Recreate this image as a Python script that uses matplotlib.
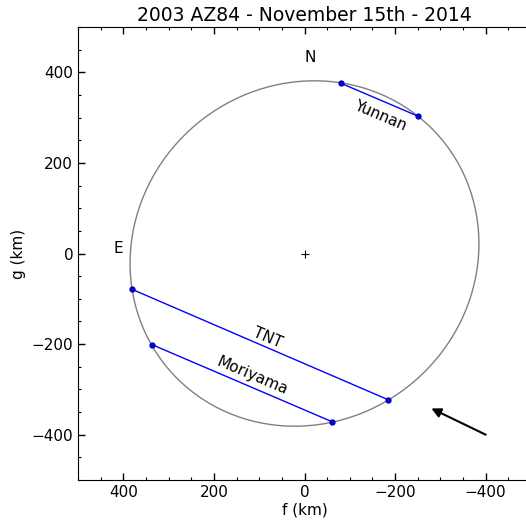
import matplotlib
matplotlib.use("Agg")
import matplotlib.pyplot as plt
from matplotlib.patches import Ellipse
from matplotlib.ticker import MultipleLocator

# Occultation chords (f, g in km): start and end of each chord
chord_names = ["Yunnan", "TNT", "Moriyama"]
chord_f = [[-80, -251], [381, -185], [337, -60]]
chord_g = [[376, 303], [-79, -323], [-201, -371]]

# Label positions and rotation for each chord
label_f = [-167, 82, 115]
label_g = [304, -186, -271]
label_rot = -23

# Fitted limb ellipse: centre, semi-axes, position angle (deg)
ell_center = (0, 0)
ell_a, ell_b = 394, 372
ell_angle = 140

# Direction-of-motion arrow (tail -> head)
arrow_tail = (-400, -400)
arrow_head = (-280, -342)

fig = plt.figure(figsize=(5.26, 5.25), dpi=100)
ax = fig.add_axes([78 / 526, 45 / 525, 453 / 526, 453 / 525])

ell = Ellipse(ell_center, 2 * ell_a, 2 * ell_b, angle=ell_angle,
              fill=False, edgecolor="#808080", linewidth=1.0)
ax.add_patch(ell)

for fs, gs in zip(chord_f, chord_g):
    ax.plot(fs, gs, color="#0000ff", linewidth=1.0, marker="o",
            markersize=3.5, markerfacecolor="#0000ff", markeredgecolor="#0000aa")

for name, lf, lg in zip(chord_names, label_f, label_g):
    ax.text(lf, lg, name, rotation=label_rot, rotation_mode="anchor",
            ha="center", va="center", fontsize=11)

ax.plot([0], [0], marker="+", color="black", markersize=6, markeredgewidth=0.8)

ax.text(-13, 433, "N", ha="center", va="center", fontsize=11)
ax.text(410, 11, "E", ha="center", va="center", fontsize=11)

ax.annotate("", xy=arrow_head, xytext=arrow_tail,
            arrowprops=dict(arrowstyle="-|>", color="black", lw=1.5,
                            mutation_scale=14, shrinkA=0, shrinkB=0))

ax.set_xlim(500, -500)
ax.set_ylim(-500, 500)

ax.xaxis.set_major_locator(MultipleLocator(200))
ax.yaxis.set_major_locator(MultipleLocator(200))
ax.xaxis.set_minor_locator(MultipleLocator(50))
ax.yaxis.set_minor_locator(MultipleLocator(50))
ax.tick_params(which="both", direction="in", top=True, right=False,
               labelsize=11)
ax.tick_params(which="major", length=5, width=1)
ax.tick_params(which="minor", length=2.5, width=0.8)

ax.set_xlabel("f (km)", fontsize=11, labelpad=2)
ax.set_ylabel("g (km)", fontsize=11, labelpad=4)
ax.set_title("2003 AZ84 - November 15th - 2014", fontsize=13.5, pad=4)

fig.savefig("out.png", dpi=100)
